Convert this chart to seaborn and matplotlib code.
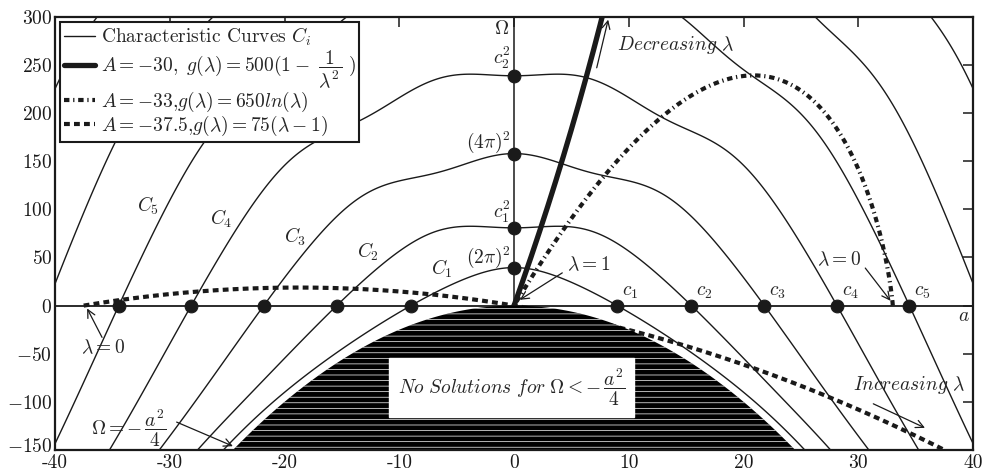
import numpy as np
import pandas as pd
import matplotlib
matplotlib.use("Agg")
import matplotlib.pyplot as plt
import matplotlib.transforms as mtransforms
import seaborn as sns
from matplotlib.lines import Line2D

# ---------------------------------------------------------------- data
# zeros of the characteristic curves on the a-axis (c_i = 2 x_i, tan x_i = x_i)
c_vals = [8.987, 15.451, 21.808, 28.132, 34.441]
c_names = [r"$c_1$", r"$c_2$", r"$c_3$", r"$c_4$", r"$c_5$"]

# intercepts on the Omega-axis
omega_axis_vals = [(2 * np.pi) ** 2, c_vals[0] ** 2, (4 * np.pi) ** 2, c_vals[1] ** 2]
omega_axis_names = [r"$(2\pi)^2$", r"$c_1^2$", r"$(4\pi)^2$", r"$c_2^2$"]
omega_label_y = [50, 97, 170, 257]

# curve labels C_1..C_5 (a, Omega)
curve_names = [r"$C_1$", r"$C_2$", r"$C_3$", r"$C_4$", r"$C_5$"]
curve_label_a = [-6.3, -12.7, -19.1, -25.5, -31.9]
curve_label_w = [38, 56, 71, 90, 104]

# load paths: a = branch * A * (1 - lambda), Omega = -lambda * g(lambda)
A_vals = [-30.0, -33.0, -37.5]
branch = [-1, -1, 1]
g_funcs = [
    lambda l: 500 * (1 - 1 / l ** 2),
    lambda l: 650 * np.log(l),
    lambda l: 75 * (l - 1),
]
lam_ranges = [(0.6, 1.4), (1e-5, 1.3), (0.0, 2.05)]
path_labels = [
    r"$A=-30,\ g(\lambda)=500(1-\ \dfrac{1}{\lambda^2}\ )$",
    r"$A=-33{,}g(\lambda)=650ln(\lambda)$",
    r"$A=-37.5{,}g(\lambda)=75(\lambda-1)$",
]

x_ticks = [-40, -30, -20, -10, 0, 10, 20, 30, 40]
x_tick_labels = ["-40", "-30", "-20", "-10", "0", "10", "20", "30", "40"]
y_ticks = [-150, -100, -50, 0, 50, 100, 150, 200, 250, 300]
y_tick_labels = [f"${v}$" for v in y_ticks]

# ---------------------------------------------------------------- style
sns.set_theme(style="white")
plt.rcParams.update({
    "font.family": "serif",
    "font.serif": ["cmr10", "DejaVu Serif"],
    "mathtext.fontset": "cm",
    "axes.unicode_minus": False,
    "axes.formatter.use_mathtext": True,
    "hatch.linewidth": 0.5,
})

fig = plt.figure(figsize=(9.82, 4.74), dpi=100)
ax = fig.add_axes([0.056, 0.0506, 0.935, 0.914])


def char_fn(a, w):
    """Clamped-clamped determinant of u'''' + i a u''' + Omega u'' = 0,
    with the trivial factors (Omega = 0 and s = 0) removed."""
    s2 = a ** 2 + 4 * w
    s = np.sqrt(np.where(s2 > 0, s2, np.nan))
    q = np.cos(s / 2) - np.cos(a / 2) + w * np.sin(s / 2) / s
    return q / w ** 2


ag = np.linspace(-40.5, 40.5, 1800)
wg = np.linspace(-151.0, 301.0, 2000)
AA, WW = np.meshgrid(ag, wg)
ax.contour(AA, WW, char_fn(AA, WW), levels=[0], colors="k", linewidths=1.0, zorder=2)

# axes through the origin
ax.axhline(0, color="k", lw=1.3, zorder=1.5)
ax.axvline(0, color="k", lw=1.1, zorder=1.5)

# load paths
styles = [
    dict(lw=3.8, linestyle="-"),
    dict(lw=3.0, linestyle=(0, (1.3, 0.9, 0.3, 0.9))),
    dict(lw=3.0, linestyle=(0, (1.4, 1.0))),
]
for A, sgn, g, (l0, l1), st in zip(A_vals, branch, g_funcs, lam_ranges, styles):
    if 0 < l0 < 1e-3:
        lam = np.concatenate([np.geomspace(l0, 0.05, 200), np.linspace(0.05, l1, 600)])
    else:
        lam = np.linspace(l0, l1, 800)
    df = pd.DataFrame({"a": sgn * A * (1 - lam), "Omega": -lam * g(lam)})
    sns.lineplot(data=df, x="a", y="Omega", sort=False, estimator=None,
                 color="k", ax=ax, zorder=3, **st)

# region with no solutions, Omega < -a^2/4
af = np.linspace(-26, 26, 800)
ax.fill_between(af, -af ** 2 / 4, -160, facecolor="black", edgecolor="white",
                hatch="---", linewidth=0, zorder=4)

# marked points
pts = pd.DataFrame({
    "a": list(c_vals) + [-c for c in c_vals] + [0] * len(omega_axis_vals),
    "Omega": [0] * (2 * len(c_vals)) + list(omega_axis_vals),
})
sns.scatterplot(data=pts, x="a", y="Omega", s=85, color="k", edgecolor="k",
                ax=ax, zorder=6, legend=False)

fs = 14
for c, name in zip(c_vals, c_names):
    ax.text(c + 0.4, 14, name, ha="left", va="center", fontsize=fs)
for y, name in zip(omega_label_y, omega_axis_names):
    ax.text(-0.3, y, name, ha="right", va="center", fontsize=fs)
for x, y, name in zip(curve_label_a, curve_label_w, curve_names):
    ax.text(x, y, name, ha="center", va="center", fontsize=fs)

ax.text(-0.4, 287, r"$\Omega$", ha="right", va="center", fontsize=fs)
ax.text(39.2, -11, r"$a$", ha="center", va="center", fontsize=fs)

arrow = dict(arrowstyle="->", lw=0.9, color="k", shrinkA=0, shrinkB=0,
             mutation_scale=14)
ax.text(6.5, 42, r"$\lambda = 1$", ha="center", va="center", fontsize=fs)
ax.annotate("", xy=(0.5, 6), xytext=(4.2, 34), arrowprops=arrow)
ax.text(28.3, 47, r"$\lambda = 0$", ha="center", va="center", fontsize=fs)
ax.annotate("", xy=(32.8, 5), xytext=(30.6, 39), arrowprops=arrow)
ax.text(-35.8, -44, r"$\lambda = 0$", ha="center", va="center", fontsize=fs)
ax.annotate("", xy=(-37.2, -3), xytext=(-35.9, -33), arrowprops=arrow)
ax.text(-33.6, -127, r"$\Omega = -\,\dfrac{a^2}{4}$", ha="center", va="center", fontsize=fs)
ax.annotate("", xy=(-24.5, -146), xytext=(-29.4, -121), arrowprops=arrow)
ax.text(9.0, 271, r"$Decreasing\ \lambda$", ha="left", va="center", fontsize=fs)
ax.annotate("", xy=(8.2, 297), xytext=(7.2, 247), arrowprops=arrow)
ax.text(29.5, -82, r"$Increasing\ \lambda$", ha="left", va="center", fontsize=fs)
ax.annotate("", xy=(35.8, -127), xytext=(31.3, -102), arrowprops=arrow)
ax.text(-0.2, -85, r"$No\ Solutions\ for\ \Omega < -\,\dfrac{a^2}{4}$",
        ha="center", va="center", fontsize=fs, zorder=7,
        bbox=dict(boxstyle="square,pad=0.45", facecolor="white", edgecolor="white"))

# axes styling
ax.set_xlim(-40, 40)
ax.set_ylim(-150, 300)
ax.set_xticks(x_ticks)
ax.set_xticklabels(x_tick_labels)
ax.set_yticks(y_ticks)
ax.set_yticklabels(y_tick_labels)
ax.set_xlabel("")
ax.set_ylabel("")
ax.tick_params(direction="in", length=7, width=1.1, top=True, right=True,
               labelsize=fs, colors="k")
ax.tick_params(axis="y", pad=2)
ax.tick_params(axis="x", pad=3)
for sp in ax.spines.values():
    sp.set_linewidth(1.6)
    sp.set_color("k")
    sp.set_zorder(8)

# lift the lowest Omega label a little so it clears the corner a-label
low = ax.get_yticklabels()[0]
low.set_transform(low.get_transform() +
                  mtransforms.ScaledTranslation(0, 5 / 100, fig.dpi_scale_trans))

handles = [Line2D([], [], color="k", lw=1.0)] + [
    Line2D([], [], color="k", **st) for st in styles]
labels = [r"Characteristic Curves $C_i$"] + path_labels
leg = ax.legend(handles, labels, loc="upper left", fontsize=fs, frameon=True,
                fancybox=False, framealpha=1, edgecolor="k", borderaxespad=0.25,
                handlelength=1.6, handletextpad=0.3, labelspacing=0.0, borderpad=0.2)
leg.get_frame().set_linewidth(1.5)
leg.set_zorder(9)

fig.savefig("out.png", dpi=100)
